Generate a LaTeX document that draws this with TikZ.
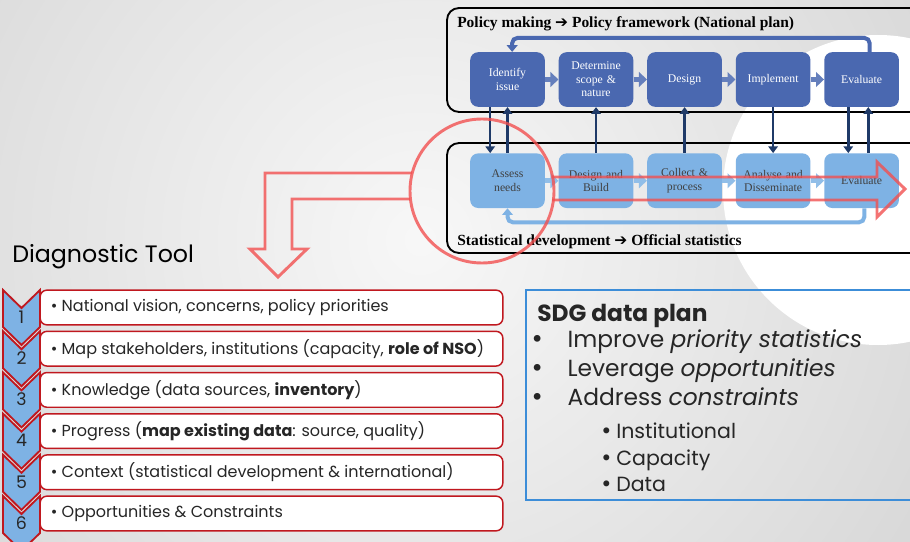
\documentclass[tikz,border=0pt]{standalone}
\usepackage{fontspec}
\setmainfont{Liberation Serif}
\setsansfont{Poppins}
\newfontfamily\arrowfont{DejaVu Sans}
\usetikzlibrary{arrows.meta, positioning, shapes.geometric}
\definecolor{policyblue}{HTML}{4A68B0}
\definecolor{statblue}{HTML}{7EB2E4}
\definecolor{navy}{HTML}{1F3A68}
\definecolor{rowred}{HTML}{C0181F}
\definecolor{markred}{HTML}{F25050}
\definecolor{sdgblue}{HTML}{3C8DD8}
\definecolor{inktext}{HTML}{262626}
\newcommand{\bigdot}{{\arrowfont •}}
\newcommand{\rowline}[1]{\makebox[331pt][l]{\textbullet\ #1}}
\tikzset{
    policybox/.style={rectangle, rounded corners=6pt, fill=policyblue, text=white, minimum width=56pt, minimum height=41pt, text width=54pt, align=center, inner sep=1pt, font=\fontsize{8.8}{10}\selectfont},
    statbox/.style={policybox, fill=statblue, text=black!75},
    polstep/.style={line width=4pt, draw=policyblue!85!white, -{Triangle[width=11pt, length=6pt]}},
    statstep/.style={line width=4pt, draw=statblue!85!white, -{Triangle[width=11pt, length=6pt]}},
    vlink/.style={line width=1.9pt, draw=navy, -{Triangle[width=7pt, length=5pt]}},
    polloop/.style={line width=3pt, draw=policyblue, rounded corners=4pt, -{Triangle[width=8pt, length=5pt]}},
    statloop/.style={line width=3pt, draw=statblue, rounded corners=4pt, -{Triangle[width=8pt, length=5pt]}},
    frame/.style={draw=black, line width=1.4pt, rounded corners=9pt},
    frametitle/.style={anchor=base west, inner sep=0pt, font=\bfseries\fontsize{11.6}{13}\selectfont},
    redmark/.style={draw=markred, line width=2.2pt, draw opacity=0.8, line join=miter},
    rowbox/.style={rectangle, draw=rowred, line width=1.1pt, fill=white, rounded corners=5pt, minimum width=347pt, minimum height=26pt, inner xsep=8pt, text=inktext, font=\sffamily\fontsize{12}{14}\selectfont},
    chevron/.style={draw=rowred, fill=statblue, line width=1.4pt, line join=miter},
    chevnum/.style={inner sep=0pt, text=inktext, font=\sffamily\fontsize{13}{13}\selectfont},
    sdgitem/.style={anchor=base west, inner sep=0pt, text=inktext, font=\sffamily\fontsize{17.5}{19}\selectfont},
    sdgsub/.style={anchor=base west, inner sep=0pt, text=inktext, font=\sffamily\fontsize{15.4}{17}\selectfont}
}

\begin{document}
\begin{tikzpicture}[x=0.75pt, y=-0.75pt, node distance=34.5pt and 10pt]
    \useasboundingbox (0,0) rectangle (910,542);
    \clip (0,0) rectangle (910,542);
    % Background
    \shade[inner color=white!97!black, outer color=white!76!black] (420,240) circle[radius=1000];
    \fill[white] (878,190) circle[radius=155];
    % Frames
    \draw[frame] (447,8) rectangle (925,112);
    \draw[frame] (447,143) rectangle (925,253);
    \node[frametitle] (poltitle) at (457,28) {Policy making {\arrowfont ➔} Policy framework (National plan)};
    \node[frametitle] (stattitle) at (457,245) {Statistical development {\arrowfont ➔} Official statistics};
    % Policy cycle
    \node (identify) [policybox] at (507.5,79.5) {Identify\\issue};
    \node (determine) [policybox, right=of identify] {Determine\\scope \&\\nature};
    \node (design) [policybox, right=of determine] {Design};
    \node (implement) [policybox, right=of design] {Implement};
    \node (evaluate) [policybox, right=of implement] {Evaluate};
    % Statistics cycle
    \node (assess) [statbox, below=of identify] {Assess\\needs};
    \node (build) [statbox, right=of assess] {Design and\\Build};
    \node (collect) [statbox, right=of build] {Collect \&\\process};
    \node (analyse) [statbox, right=of collect] {Analyse and\\Disseminate};
    \node (evalstat) [statbox, right=of analyse] {Evaluate};
    % Steps
    \draw [polstep] (identify) -- (determine);
    \draw [polstep] (determine) -- (design);
    \draw [polstep] (design) -- (implement);
    \draw [polstep] (implement) -- (evaluate);
    \draw [statstep] (assess) -- (build);
    \draw [statstep] (build) -- (collect);
    \draw [statstep] (collect) -- (analyse);
    \draw [statstep] (analyse) -- (evalstat);
    % Loops
    \draw [polloop] ([xshift=6pt]evaluate.north) -- ++(0,-14) -| ([xshift=3.5pt]identify.north);
    \draw [statloop] ([xshift=2pt]evalstat.south) -- ++(0,14) -| (assess.south);
    % Links between levels
    \draw [vlink] ([xshift=-13pt]identify.south) -- ([xshift=-13pt]assess.north);
    \draw [vlink] (assess.north) -- (identify.south);
    \draw [vlink] (build.north) -- (determine.south);
    \draw [vlink] (collect.north) -- (design.south);
    \draw [vlink] (implement.south) -- (analyse.north);
    \draw [vlink] ([xshift=-10pt]evaluate.south) -- ([xshift=-10pt]evalstat.north);
    \draw [vlink] ([xshift=5pt]evalstat.north) -- ([xshift=5pt]evaluate.south);
    % Red marks
    \draw [redmark] (482,191) circle[radius=72];
    \draw [redmark] (412,173) -- (265,173) -- (265,249) -- (250,249) -- (278,277) -- (307,249) -- (292,249) -- (292,199) -- (410,199);
    \draw [redmark] (552,177) -- (877,177) -- (877,162) -- (905,189) -- (877,217) -- (877,200) -- (552,200);
    % Diagnostic tool
    \node (diagtitle) [anchor=base west, inner sep=0pt, text=black, font=\sffamily\fontsize{17.8}{20}\selectfont] at (12,262) {Diagnostic Tool};
    \node (row1) [rowbox] at (271.5,307.5) {\rowline{National vision, concerns, policy priorities}};
    \node (row2) [rowbox] at (271.5,348.7) {\rowline{Map stakeholders, institutions (capacity, \textbf{role of NSO})}};
    \node (row3) [rowbox] at (271.5,389.9) {\rowline{Knowledge (data sources, \textbf{inventory})}};
    \node (row4) [rowbox] at (271.5,431.1) {\rowline{Progress (\textbf{map existing data}: source, quality)}};
    \node (row5) [rowbox] at (271.5,472.3) {\rowline{Context (statistical development \& international)}};
    \node (row6) [rowbox] at (271.5,513.5) {\rowline{Opportunities \& Constraints}};
    \foreach \n [evaluate=\n as \t using 290+41.2*(\n-1)] in {1,...,6} {
        \draw [chevron] (3,\t) -- (21.5,\t+18) -- (40,\t) -- (40,\t+37) -- (21.5,\t+55) -- (3,\t+37) -- cycle;
        \node (num\n) [chevnum] at (21.5,\t+27) {\n};
    }
    % SDG data plan
    \draw [draw=sdgblue, line width=1pt] (526,290) rectangle (925,500);
    \node (sdgtitle) [sdgitem, font=\sffamily\bfseries\fontsize{17.5}{19}\selectfont] at (537,321) {SDG data plan};
    \node (improve) [sdgitem] at (530,347) {\makebox[28pt][l]{\bigdot}Improve \textit{priority statistics}};
    \node (leverage) [sdgitem] at (530,376) {\makebox[28pt][l]{\bigdot}Leverage \textit{opportunities}};
    \node (address) [sdgitem] at (530,405) {\makebox[28pt][l]{\bigdot}Address \textit{constraints}};
    \node (institutional) [sdgsub] at (600,438) {\makebox[12pt][l]{\bigdot}Institutional};
    \node (capacity) [sdgsub] at (600,465) {\makebox[12pt][l]{\bigdot}Capacity};
    \node (data) [sdgsub] at (600,491) {\makebox[12pt][l]{\bigdot}Data};
\end{tikzpicture}
\end{document}
